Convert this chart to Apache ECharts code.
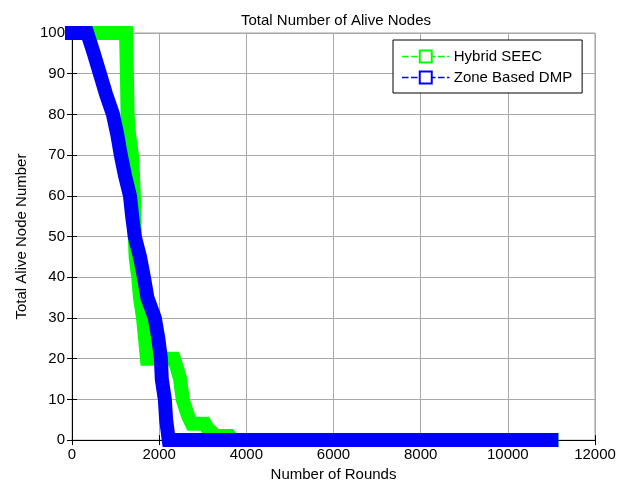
<!DOCTYPE html>
<html>
<head>
<meta charset="utf-8">
<script src="https://cdn.jsdelivr.net/npm/echarts@6/dist/echarts.min.js"></script>
<style>
html,body{margin:0;padding:0;background:#fff;}
#c{width:624px;height:487px;}
</style>
</head>
<body>
<div id="c"></div>
<script>
// Data
const seriesNames = ['Hybrid SEEC', 'Zone Based DMP'];
const hybridRounds = [0, 1240, 1250, 1260, 1275, 1310, 1375, 1400, 1420, 1430, 1440, 1460, 1520, 1560, 1630, 1675, 1720, 2340, 2400, 2480, 2540, 2600, 2660, 2750, 3050, 3100, 3200, 3300, 3620, 3700, 11000];
const hybridAlive  = [100, 100, 95, 90, 80, 75, 70, 65, 60, 55, 50, 45, 40, 35, 30, 25, 20, 20, 18, 15, 10, 8, 6, 4, 4, 3, 2, 1, 1, 0, 0];
const zoneRounds = [0, 350, 500, 640, 780, 940, 1040, 1120, 1215, 1330, 1380, 1440, 1560, 1650, 1730, 1900, 1980, 2040, 2060, 2130, 2160, 2220, 11000];
const zoneAlive  = [100, 100, 95, 90, 85, 80, 75, 70, 65, 60, 55, 50, 45, 40, 35, 30, 25, 20, 15, 10, 5, 0, 0];
const xTicks = [0, 2000, 4000, 6000, 8000, 10000, 12000];
const yTicks = [0, 10, 20, 30, 40, 50, 60, 70, 80, 90, 100];

const pairs = (xs, ys) => xs.map((x, i) => [x, ys[i]]);
const FONT = 'Liberation Sans, Arial, sans-serif';

const chart = echarts.init(document.getElementById('c'), null, {renderer: 'canvas'});
const band = (name, color, data, z) => ({
  name: name,
  type: 'line',
  data: data,
  clip: false,
  z: z,
  symbol: 'emptyRect',
  symbolSize: 8,
  showSymbol: false,
  itemStyle: {color: color, borderColor: color, borderWidth: 2},
  lineStyle: {color: color, width: 14, cap: 'square', join: 'miter', miterLimit: 2},
  emphasis: {disabled: true},
  animation: false
});

chart.setOption({
  animation: false,
  backgroundColor: '#fff',
  title: {
    text: 'Total Number of Alive Nodes',
    left: 331, top: 8, textAlign: 'center',
    textStyle: {fontFamily: FONT, fontSize: 15, fontWeight: 'normal', color: '#000'}
  },
  grid: {left: 72, right: 29, top: 33, bottom: 44, show: true, borderColor: '#a0a0a0', borderWidth: 1},
  legend: {
    orient: 'vertical',
    left: 393, top: 40,
    padding: [9, 10, 8, 9],
    itemGap: 6,
    itemWidth: 46, itemHeight: 15,
    backgroundColor: '#fff',
    borderColor: '#000', borderWidth: 1,
    textStyle: {fontFamily: FONT, fontSize: 15, color: '#000'},
    lineStyle: {width: 1.5, type: [5, 4]},
    data: seriesNames
  },
  xAxis: [{
    type: 'value', min: 0, max: 12000, interval: 2000,
    name: 'Number of Rounds', nameLocation: 'middle', nameGap: 26,
    nameTextStyle: {fontFamily: FONT, fontSize: 15, color: '#000'},
    axisLine: {show: true, onZero: false, lineStyle: {color: '#000', width: 1}},
    axisTick: {show: true, inside: true, length: 5, lineStyle: {color: '#000'}},
    axisLabel: {fontFamily: FONT, fontSize: 15, color: '#000', margin: 7,
      formatter: v => xTicks.includes(v) ? String(v) : ''},
    splitLine: {show: true, lineStyle: {color: '#a8a8a8', width: 1}}
  }, {
    type: 'value', min: 0, max: 12000, interval: 2000, position: 'top',
    axisLine: {show: false},
    axisTick: {show: true, inside: true, length: 5, lineStyle: {color: '#000'}},
    axisLabel: {show: false}, splitLine: {show: false}
  }],
  yAxis: [{
    type: 'value', min: 0, max: 100, interval: 10,
    name: 'Total Alive Node Number', nameLocation: 'middle', nameGap: 40,
    nameTextStyle: {fontFamily: FONT, fontSize: 15, color: '#000'},
    axisLine: {show: true, onZero: false, lineStyle: {color: '#000', width: 1}},
    axisTick: {show: true, inside: true, length: 5, lineStyle: {color: '#000'}},
    axisLabel: {fontFamily: FONT, fontSize: 15, color: '#000', margin: 7,
      formatter: v => yTicks.includes(v) ? String(v) : ''},
    splitLine: {show: true, lineStyle: {color: '#a8a8a8', width: 1}}
  }, {
    type: 'value', min: 0, max: 100, interval: 10, position: 'right',
    axisLine: {show: false},
    axisTick: {show: true, inside: true, length: 5, lineStyle: {color: '#000'}},
    axisLabel: {show: false}, splitLine: {show: false}
  }],
  series: [
    band(seriesNames[0], '#00ff00', pairs(hybridRounds, hybridAlive), 2),
    band(seriesNames[1], '#0000ff', pairs(zoneRounds, zoneAlive), 3)
  ]
});
</script>
</body>
</html>
